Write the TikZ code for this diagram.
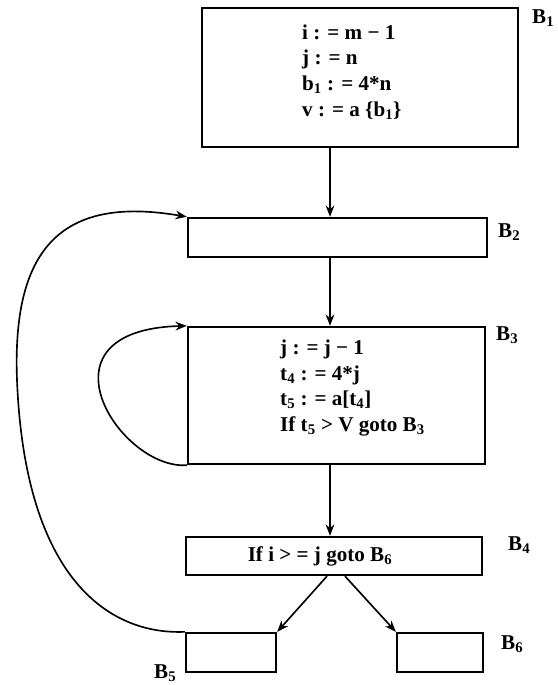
\documentclass[tikz,border=0pt]{standalone}
\usepackage{fontspec}
\setmainfont{Liberation Serif}
\usetikzlibrary{arrows.meta,positioning,calc}

\begin{document}
\begin{tikzpicture}[x=0.03cm, y=-0.03cm,
    blk/.style={rectangle, draw, line width=2pt, inner sep=0pt},
    code/.style={font=\fontsize{18}{22}\selectfont\bfseries, align=left, anchor=west, inner sep=0pt},
    lbl/.style={font=\fontsize{18}{20}\selectfont\bfseries, anchor=west, inner sep=0pt},
    arr/.style={-{Stealth[length=3.4mm, width=2.6mm]}, line width=1.4pt}
]
\useasboundingbox (0,0) rectangle (557,685);

% basic blocks
\node[blk, minimum width=9.48cm, minimum height=4.17cm] (b1) at (360,77.5) {};
\node[blk, minimum width=8.97cm, minimum height=1.17cm] (b2) at (337.5,237.5) {};
\node[blk, minimum width=8.91cm, minimum height=4.11cm] (b3) at (336.5,395.5) {};
\node[blk, minimum width=8.88cm, minimum height=1.14cm] (b4) at (334,556) {};
\node[blk, minimum width=2.7cm, minimum height=1.17cm] (b5) at (231,652.5) {};
\node[blk, minimum width=2.58cm, minimum height=1.17cm] (b6) at (440,652.5) {};

% code
\node[code] (c1) at (302,72) {i : = m − 1\\j : = n\\b\textsubscript{1} : = 4*n\\v : = a \{b\textsubscript{1}\}};
\node[code] (c3) at (280,388) {j : = j − 1\\t\textsubscript{4} : = 4*j\\t\textsubscript{5} : = a[t\textsubscript{4}]\\If t\textsubscript{5} > V goto B\textsubscript{3}};
\node[code, anchor=center] (c4) at (320,556) {If i > = j goto B\textsubscript{6}};

% block names
\node[lbl] (l1) at (532,18) {B\textsubscript{1}};
\node[lbl] (l2) at (498,232) {B\textsubscript{2}};
\node[lbl] (l3) at (496,335) {B\textsubscript{3}};
\node[lbl] (l4) at (508,545) {B\textsubscript{4}};
\node[lbl] (l5) at (154,673) {B\textsubscript{5}};
\node[lbl] (l6) at (501,644) {B\textsubscript{6}};

% flow
\coordinate (spine) at (330,0);
\draw[arr] (b1.south -| spine) -- (b2.north -| spine);
\draw[arr] (b2.south -| spine) -- (b3.north -| spine);
\draw[arr] (b3.south -| spine) -- (b4.north -| spine);
\draw[arr] ($(b4.south -| spine)+(-3,0)$) -- (b5.north east);
\draw[arr] ($(b4.south -| spine)+(15,0)$) -- (b6.north west);

% back edges
\draw[arr] (b3.south west) .. controls (120,470) and (30,330) .. (b3.north west);
\draw[arr] (b5.north west) .. controls (110,635) and (25,580) .. (17,380)
    .. controls (12,250) and (60,195) .. (b2.north west);

\end{tikzpicture}
\end{document}
